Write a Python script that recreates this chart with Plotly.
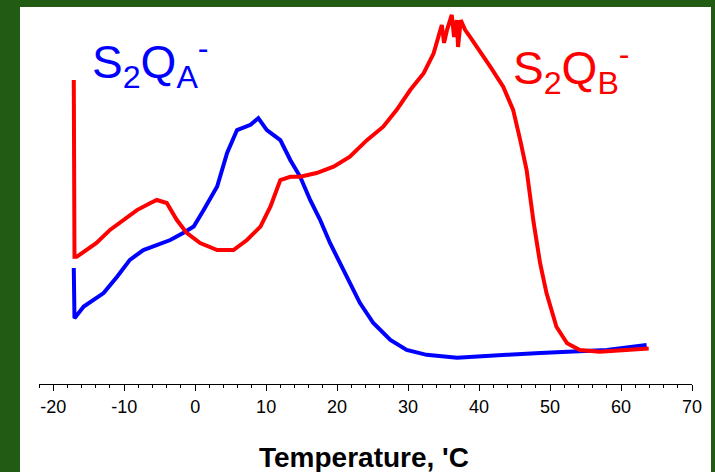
import plotly.graph_objects as go

# Temperature (°C) and signal (arbitrary units)
temp_a = [-17.1, -17.0, -15.7, -14.3, -12.9, -11.0, -9.2, -7.3, -5.4, -3.5, -1.7, -0.2,
          1.2, 3.1, 4.5, 5.9, 7.8, 8.9, 10.1, 12.0, 13.4, 14.8, 16.2, 17.6, 19.0,
          20.4, 21.8, 23.2, 25.1, 27.5, 29.8, 32.6, 36.9, 39.2, 43.9, 48.6, 53.2,
          58.0, 63.6]
sig_a = [31.0, 17.6, 20.7, 22.5, 24.3, 28.7, 33.2, 35.8, 37.2, 38.5, 40.4, 42.1,
         46.5, 52.8, 61.8, 67.9, 69.3, 71.1, 67.9, 65.2, 59.9, 55.4, 49.2, 43.9, 37.7,
         32.4, 27.0, 21.7, 16.3, 11.8, 9.1, 7.8, 7.0, 7.2, 7.8, 8.3, 8.6,
         9.1, 10.4]

temp_b = [-17.1, -17.0, -16.7, -15.7, -13.9, -12.0, -10.1, -8.2, -6.3, -5.4, -4.0,
          -2.6, -1.2, 0.7, 3.1, 5.4, 7.3, 9.2, 10.6, 12.0, 13.4, 14.8, 17.1, 19.5,
          21.8, 24.2, 26.5, 28.4, 30.3, 32.2, 33.6, 34.75, 35.07, 35.49, 36.15, 36.48,
          36.86, 37.04, 37.42, 38.03, 38.73, 39.7,
          41.6, 43.4, 44.8, 45.8, 46.7, 47.7, 48.6, 49.5, 50.9, 52.4, 54.2, 57.0,
          60.8, 63.9]
sig_b = [81.3, 34.0, 34.0, 35.4, 37.7, 41.2, 43.9, 46.5, 48.4, 49.2, 48.4,
         43.9, 40.4, 37.7, 35.8, 35.8, 38.5, 42.1, 47.4, 54.5, 55.4, 55.4, 56.4, 58.1,
         60.8, 65.2, 68.8, 73.3, 78.6, 83.1, 88.4, 96.0, 91.2, 94.7, 98.7, 92.8,
         97.3, 90.1, 97.3, 94.7, 92.8, 90.2,
         84.8, 79.5, 73.3, 65.2, 57.2, 43.0, 32.3, 24.3, 15.3, 10.9, 9.1, 8.6,
         9.1, 9.5]

x_ticks = [-20, -10, 0, 10, 20, 30, 40, 50, 60, 70]

GREEN = "#225c14"

fig = go.Figure()
fig.add_trace(go.Scatter(x=temp_a, y=sig_a, mode="lines",
                         line=dict(color="#0000ff", width=4), showlegend=False))
fig.add_trace(go.Scatter(x=temp_b, y=sig_b, mode="lines",
                         line=dict(color="#ff0000", width=4), showlegend=False))

L, R, T, B = 39, 23, 10, 88
W, H = 715, 472
pw, ph = W - L - R, H - T - B

def px(xp):
    return (xp - L) / pw

def py(yp):
    return (H - B - yp) / ph

fig.add_shape(type="rect", xref="paper", yref="paper",
              x0=px(20), x1=px(711), y0=py(480), y1=py(7),
              fillcolor="white", line=dict(width=0), layer="below")

fig.add_annotation(text="S<sub>2</sub>Q<sub>A</sub><sup>-</sup>", xref="paper", yref="paper",
                   x=px(90), y=py(28), xanchor="left", yanchor="top", showarrow=False,
                   font=dict(family="Liberation Sans, Arial", size=46, color="#0000ff"))
fig.add_annotation(text="S<sub>2</sub>Q<sub>B</sub><sup>-</sup>", xref="paper", yref="paper",
                   x=px(511), y=py(34), xanchor="left", yanchor="top", showarrow=False,
                   font=dict(family="Liberation Sans, Arial", size=46, color="#ff0000"))
fig.add_annotation(text="<b>Temperature, 'C</b>", xref="paper", yref="paper",
                   x=px(364), y=py(458), xanchor="center", yanchor="middle", showarrow=False,
                   font=dict(family="Liberation Sans, Arial", size=28, color="black"))

fig.update_xaxes(range=[-22, 70], tickvals=x_ticks, ticktext=[str(v) for v in x_ticks],
                 showline=True, linecolor="black", linewidth=1,
                 ticks="outside", ticklen=6, tickcolor="black", tickwidth=1,
                 minor=dict(dtick=2, ticks="outside", ticklen=3, tickcolor="black", tickwidth=1),
                 showgrid=False, zeroline=False,
                 tickfont=dict(family="Liberation Sans, Arial", size=18, color="black"))
fig.update_yaxes(range=[0, 100], visible=False, showgrid=False, zeroline=False)

fig.update_layout(width=W, height=H, margin=dict(l=L, r=R, t=T, b=B),
                  paper_bgcolor=GREEN, plot_bgcolor="white")

fig.write_html("out.html", config={"displayModeBar": False},
               post_script="document.body.style.margin='0';document.body.style.overflow='hidden';")
